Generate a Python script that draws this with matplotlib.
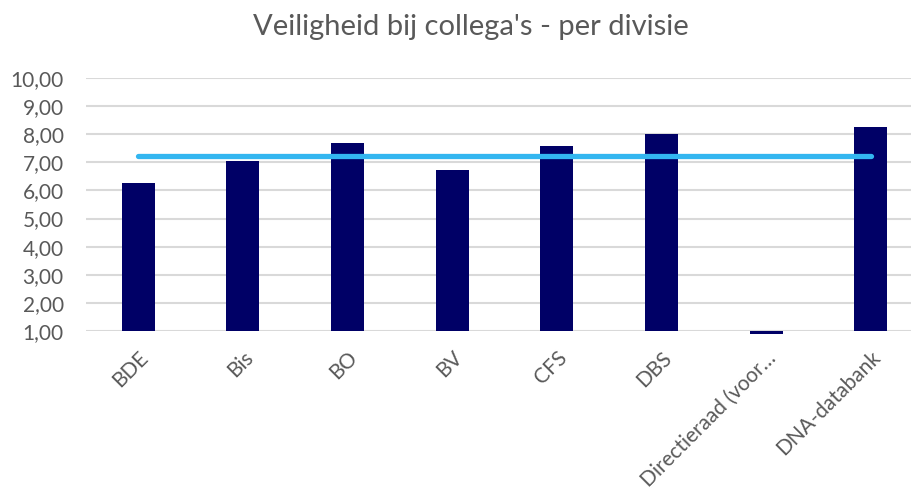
import matplotlib
matplotlib.use("Agg")
import matplotlib.pyplot as plt
import numpy as np

# Data
divisies = ["BDE", "Bis", "BO", "BV", "CFS", "DBS", "Directieraad (voor\u2026", "DNA-databank"]
scores = [6.26, 7.05, 7.69, 6.74, 7.59, 8.00, 0.88, 8.27]
gemiddelde = [7.22] * len(divisies)
y_ticks = [1, 2, 3, 4, 5, 6, 7, 8, 9, 10]

plt.rcParams['font.family'] = ['Lato', 'DejaVu Sans']
grey = "#595959"

fig = plt.figure(figsize=(9.12, 4.92), dpi=100)
ax = fig.add_axes([86 / 912, 1 - 331 / 492, 837 / 912, 253 / 492])

x = np.arange(len(divisies))
bars = ax.bar(x, np.array(scores) - 1, bottom=1, width=0.315, color="#000066", zorder=3)
for b in bars:
    b.set_clip_on(False)
ax.plot(x, gemiddelde, color="#33b6f0", linewidth=3.8, solid_capstyle="round", zorder=4)

ax.set_xlim(-0.5, 7.5)
ax.set_ylim(1, 10)
ax.set_yticks(y_ticks)
ax.set_yticklabels([f"{v:.2f}".replace(".", ",") for v in y_ticks])
ax.set_xticks(x)
ax.set_xticklabels(divisies, rotation=45, ha="right", va="top", rotation_mode="anchor")
ax.tick_params(axis="both", length=0, colors=grey, labelsize=15)
ax.tick_params(axis="y", pad=16)
ax.tick_params(axis="x", pad=12)
ax.grid(axis="y", color="#d9d9d9", linewidth=1.5, zorder=0)
for s in ax.spines.values():
    s.set_visible(False)

fig.text(0.516, 0.945, "Veiligheid bij collega's - per divisie", ha="center", va="center",
         fontsize=21, color=grey)

fig.savefig("out.png", dpi=100)
